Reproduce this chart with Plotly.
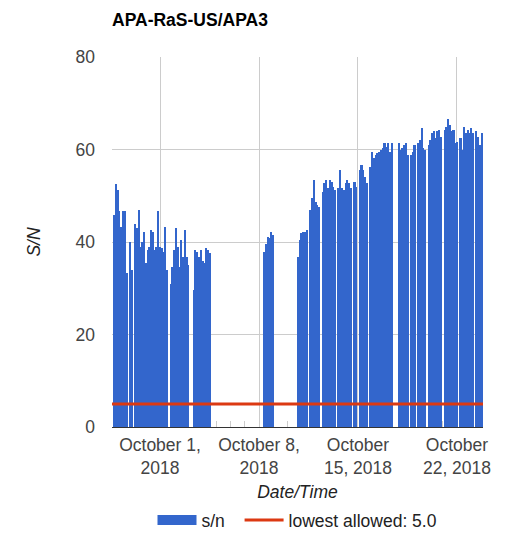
import plotly.graph_objects as go
import pandas as pd

# ---- data (S/N readings, 3-hour bins; None = no data) ----
step_hours = 3

seg1_start = "2018-09-27 18:00"
seg1_sn = [45.8, 52.5, 51.2, 46.6, 43.3, 46.6, 46.6, 33.3, None, 40.0,
           34.0, None, 44.0, 43.0, 47.0, 39.0, 40.0, 42.2, 35.5, 38.3,
           39.0, 42.6, 42.2, 38.3, 39.0, 46.6, 39.0, 38.6, 37.9, 43.3,
           34.0, None, 31.0, 34.7, 38.3, 43.0, 39.0, 34.7, 40.4, 36.8,
           42.6, 36.8, 35.0, None, None, 29.6, 38.3, 37.9, 36.8, 38.3,
           36.0, 35.5, 38.6, 38.3, 37.6]

seg2_start = "2018-10-08 09:00"
seg2_sn = [37.9, 39.5, 41.1, 40.8, 42.2, 41.5]

seg3_start = "2018-10-10 18:00"
seg3_sn = [36.8, 40.4, 41.9, 42.2, 42.2, 42.6, None, 47.0, 49.5, 53.4,
           48.6, 48.0, 47.6, None, 50.9, 52.7, 53.4, 51.6, 53.4, 53.0,
           52.0, 51.2, None, 51.6, 55.6, 51.6, 51.2, 52.7, 53.4, 52.7,
           51.6, None, 53.0, 52.0, None, 55.6, 56.6, 55.6, 54.0, 52.7,
           None, 56.3, 59.5, 58.1, 58.8, 59.2, 59.5, 59.9, 60.3, 61.3,
           60.6, 61.3, 59.5, 61.3, None, None, None, 61.3, 59.9, 60.3,
           61.0, 61.3, 58.8, None, 58.8, 59.5, 61.0, None, 61.3, 62.0,
           64.6, 60.3, 59.9, None, 61.0, 62.0, 63.5, 63.9, 62.4, 63.9,
           64.2, 62.6, None, 64.2, 64.9, 66.7, 65.3, 63.9, 64.2, 61.3,
           61.6, None, 62.4, 59.9, 64.9, 63.5, 64.2, 63.5, 64.6, 63.5,
           None, 63.9, 62.6, 61.0, 63.5]

lowest_allowed = 5.0

x_range = ["2018-09-27 14:30", "2018-10-23 20:10"]
tick_dates = ["2018-10-01", "2018-10-08", "2018-10-15", "2018-10-22"]
tick_labels = ["October 1,<br>2018", "October 8,<br>2018",
               "October<br>15, 2018", "October<br>22, 2018"]
y_ticks = [0, 20, 40, 60, 80]

# ---- build ----
xs, ys = [], []
for start, vals in [(seg1_start, seg1_sn), (seg2_start, seg2_sn), (seg3_start, seg3_sn)]:
    times = pd.date_range(start, periods=len(vals), freq=f"{step_hours}h")
    xs.extend(times)
    ys.extend(vals)

FONT = "Liberation Sans, Arial, sans-serif"
BLUE = "#3366cc"
RED = "#dc3912"

# page body has an 8px margin, so the figure is sized/offset to compensate
W, H = 503, 532

fig = go.Figure()
fig.add_trace(go.Bar(
    x=xs, y=ys, name="s/n", showlegend=False, legendgroup="sn",
    width=step_hours * 3600 * 1000 * 1.2,
    marker=dict(color=BLUE, line=dict(width=0)),
))
# legend swatch for the bars (wide block like the original legend)
fig.add_trace(go.Scatter(
    x=[None], y=[None], mode="lines", name="s/n\u00a0\u00a0", legendgroup="sn",
    line=dict(color=BLUE, width=15),
))
fig.add_trace(go.Scatter(
    x=x_range, y=[lowest_allowed, lowest_allowed],
    mode="lines", name=f"lowest allowed: {lowest_allowed:.1f}",
    line=dict(color=RED, width=3),
))

fig.update_layout(
    width=W, height=H,
    margin=dict(l=104, r=28, t=49, b=113, autoexpand=False),
    paper_bgcolor="white", plot_bgcolor="white",
    font=dict(family=FONT, size=17.5, color="#444"),
    bargap=0,
    title=dict(text="<b>APA-RaS-US/APA3</b>", x=104 / W, xref="container",
               xanchor="left", y=1 - 12 / H, yanchor="middle",
               font=dict(family=FONT, size=17.5, color="#000")),
    showlegend=True,
    legend=dict(orientation="h", x=0.5, xanchor="center",
                yref="container", y=1 - 512 / H, itemwidth=39,
                yanchor="middle", font=dict(family=FONT, size=17.5, color="#222"),
                bgcolor="rgba(0,0,0,0)"),
    xaxis=dict(
        type="date", range=x_range, automargin=False,
        tickvals=tick_dates, ticktext=tick_labels,
        ticks="", ticklabelstandoff=2,
        showgrid=True, gridcolor="#cccccc", gridwidth=1,
        showline=True, linecolor="#333333", linewidth=1,
        layer="below traces",
        minor=dict(dtick=86400000, tick0="2018-09-28", ticks="inside",
                   ticklen=6, tickcolor="#cccccc", showgrid=False),
        title=dict(text="<i>Date/Time</i>", standoff=15,
                   font=dict(family=FONT, size=17.5, color="#222")),
        tickfont=dict(family=FONT, size=17.5, color="#444"),
    ),
    yaxis=dict(
        range=[0, 80], tickvals=y_ticks, ticks="", automargin=False,
        ticklabelstandoff=16,
        showgrid=True, gridcolor="#cccccc", gridwidth=1,
        zeroline=False,
        title=dict(text="<i>S/N</i>", standoff=30,
                   font=dict(family=FONT, size=17.5, color="#222")),
        tickfont=dict(family=FONT, size=17.5, color="#444"),
    ),
)

fig.write_html("out.html")
